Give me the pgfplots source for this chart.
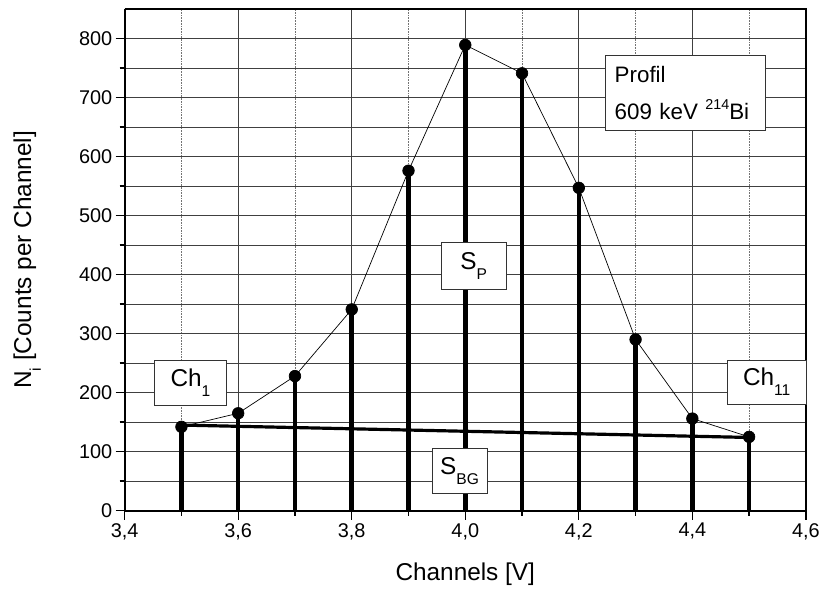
\documentclass[border=0pt]{standalone}
\usepackage{pgfplots}
\pgfplotsset{compat=1.18}
\usepackage{fontspec}
\setmainfont{Liberation Sans}
\newcommand\sub[2][0.64]{\raisebox{-0.75ex}{\scalebox{#1}{#2}}}
\newcommand\sups[1]{\raisebox{0.85ex}{\scalebox{0.64}{#1}}}
\begin{document}
\begin{tikzpicture}
\begin{axis}[
  at={(0,0)}, anchor=south west,
  scale only axis, width=683bp, height=503bp,
  xmin=3.4, xmax=4.6, ymin=0, ymax=850,
  xtick={3.4,3.6,...,4.61}, minor x tick num=1,
  ytick={0,100,...,800}, minor y tick num=1,
  axis x line*=bottom, axis y line*=left,
  tick pos=left, tick align=outside,
  major tick length=9bp, minor tick length=5bp,
  every tick/.style={black, line width=1.3bp},
  axis line style={line width=1.8bp},
  grid=both,
  major grid style={black!75, line width=0.9bp},
  minor y grid style={black!75, line width=0.9bp},
  minor x grid style={black!55, line width=0.6bp, densely dotted},
  /pgf/number format/assume math mode=true,
  xticklabel style={/pgf/number format/.cd, fixed, fixed zerofill, precision=1, use comma},
  ticklabel style={font=\fontsize{20}{22}\selectfont},
  yticklabel style={/pgf/number format/fixed},
  xlabel={Channels [V]},
  ylabel={N\sub{i} [Counts per Channel]},
  label style={font=\fontsize{24.5}{28}\selectfont},
  xlabel style={at={(axis description cs:0.5,-0.127)}, anchor=center},
  ylabel style={at={(axis description cs:-0.143,0.5)}, anchor=center},
  clip=false,
]
% closing frame lines (top and right)
\draw[line width=1.8bp] (rel axis cs:0,1) -- (rel axis cs:1,1) -- (rel axis cs:1,0);
% stems
\addplot[ycomb, line width=4.5bp, black] coordinates {
(3.5,142) (3.6,165) (3.7,228) (3.8,341) (3.9,576) (4.0,789)
(4.1,741) (4.2,547) (4.3,290) (4.4,156) (4.5,125)};
% background line
\addplot[line width=3.2bp, black] coordinates {(3.5,145) (4.5,124)};
% profile
\addplot[black, line width=0.7bp, mark=*, mark size=5.8bp, mark options={solid, fill=black}] coordinates {
(3.5,142) (3.6,165) (3.7,228) (3.8,341) (3.9,576) (4.0,789)
(4.1,741) (4.2,547) (4.3,290) (4.4,156) (4.5,125)};
% labels
\tikzset{lbl/.style={draw=black!80, line width=0.8bp, fill=white, inner sep=0pt, font=\fontsize{24.5}{28}\selectfont}}
\node[lbl, minimum width=72bp, minimum height=45bp] at (axis cs:3.516,217) {\raisebox{2bp}{Ch\sub{1}}};
\node[lbl, minimum width=79bp, minimum height=44bp] at (axis cs:4.531,218) {\raisebox{2bp}{Ch\sub{11}}};
\node[lbl, minimum width=65bp, minimum height=47bp] at (axis cs:4.015,415) {\raisebox{2bp}{S\sub{P}}};
\node[lbl, minimum width=55bp, minimum height=45bp] at (axis cs:3.99,67) {\raisebox{2bp}{S\sub{BG}}};
\node[draw=black!80, line width=0.8bp, fill=white, minimum width=160bp, minimum height=75bp, align=left, inner sep=0pt, font=\fontsize{22.5}{37}\selectfont, text width=142bp] at (axis cs:4.388,708) {Profil\\609 keV \sups{214}Bi};
\end{axis}
\path[use as bounding box] (-125bp,-80bp) rectangle (698bp,512bp);
\end{tikzpicture}
\end{document}
